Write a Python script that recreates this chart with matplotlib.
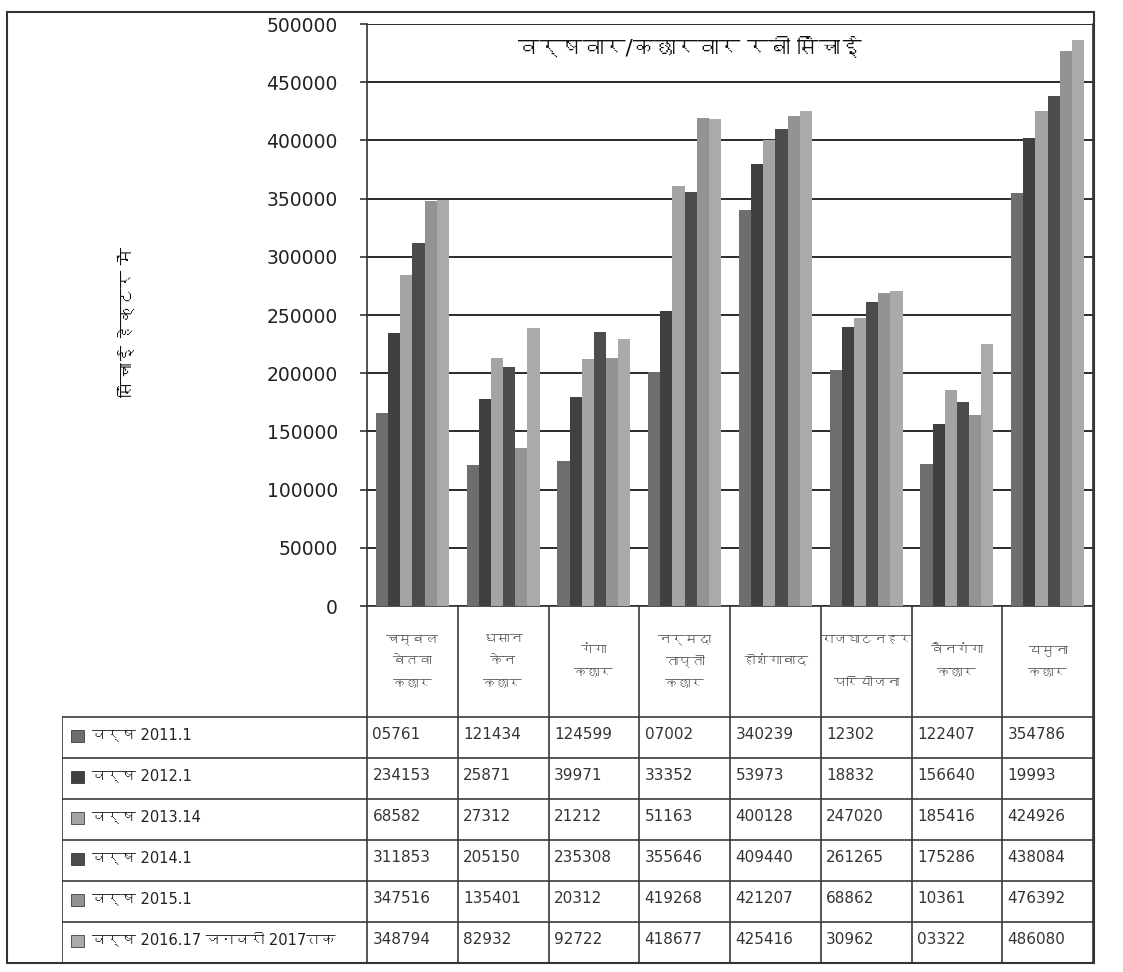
import matplotlib
matplotlib.use('Agg')
import matplotlib.pyplot as plt
from matplotlib import font_manager as fm
from matplotlib.ft2font import FT2Font
from matplotlib.patches import Rectangle

# find a font that has Devanagari glyphs
deva = None
for f in fm.fontManager.ttflist:
    try:
        if 0x0915 in FT2Font(f.fname).get_charmap():
            deva = f.name
            break
    except Exception:
        pass
# DejaVu first for digits/latin, Devanagari falls through to deva
fams = ['DejaVu Sans', deva] if deva else ['DejaVu Sans']
plt.rcParams['font.family'] = fams

# categories (basins)
categories = ['चम्बल\nबेतवा\nकछार', 'धसान\nकेन\nकछार', 'गंगा\nकछार',
              'नर्मदा\nताप्ती\nकछार', 'होशंगाबाद', 'राजघाटनहर\n\nपरियोजना',
              'वैनगंगा\nकछार', 'यमुना\nकछार']
series_names = ['वर्ष 2011.1', 'वर्ष 2012.1', 'वर्ष 2013.14', 'वर्ष 2014.1',
                'वर्ष 2015.1', 'वर्ष 2016.17 जनवरी 2017तक']

# bar heights (hectare)
y2011 = [165761, 121434, 124599, 200700, 340239, 203000, 122407, 354786]
y2012 = [234153, 178000, 179971, 253352, 379973, 240000, 156640, 401999]
y2013 = [284000, 213000, 212120, 361163, 400128, 247020, 185416, 424926]
y2014 = [311853, 205150, 235308, 355646, 409440, 261265, 175286, 438084]
y2015 = [347516, 135401, 213120, 419268, 421207, 268862, 164000, 476392]
y2016 = [348794, 238932, 229272, 418677, 425416, 270962, 225000, 486080]
series = [y2011, y2012, y2013, y2014, y2015, y2016]

# the data table text as printed (partly cut off in the source)
table_text = [
    ['05761', '121434', '124599', '07002', '340239', '12302', '122407', '354786'],
    ['234153', '25871', '39971', '33352', '53973', '18832', '156640', '19993'],
    ['68582', '27312', '21212', '51163', '400128', '247020', '185416', '424926'],
    ['311853', '205150', '235308', '355646', '409440', '261265', '175286', '438084'],
    ['347516', '135401', '20312', '419268', '421207', '68862', '10361', '476392'],
    ['348794', '82932', '92722', '418677', '425416', '30962', '03322', '486080'],
]

colors = ['#6e6e6e', '#404040', '#a4a4a4', '#4c4c4c', '#939393', '#aaaaaa']

W, H = 1123, 972
fig = plt.figure(figsize=(W / 100, H / 100), dpi=100)

def fx(x):
    return x / W

def fy(y):
    return 1 - y / H

# plot area
px0, px1, py_top, py0 = 367, 1093, 24, 606
ax = fig.add_axes([fx(px0), fy(py0), fx(px1 - px0), (py0 - py_top) / H])
n = len(categories)
bw = 0.134
for j, vals in enumerate(series):
    xs = [i + (j - 2.5) * bw for i in range(n)]
    ax.bar(xs, vals, width=bw, color=colors[j], edgecolor='none', zorder=3)
ax.set_xlim(-0.5, n - 0.5)
ax.set_ylim(0, 500000)
ax.set_yticks(range(0, 500001, 50000))
ax.set_yticklabels([str(v) for v in range(0, 500001, 50000)], fontsize=13.5,
                   color='#222222')
ax.tick_params(axis='y', length=5, width=1.2, color='#333333', pad=16)
ax.set_xticks([])
ax.grid(axis='y', color='#2a2a2a', linewidth=1.4, zorder=0)
for s in ax.spines.values():
    s.set_color('#333333')
    s.set_linewidth(1.2)
ax.spines['top'].set_visible(False)

fig.text(fx(690), fy(48), 'वर्षवार/कछारवार रबी सिंचाई', fontsize=15.5,
         ha='center', va='center', color='#111111')
fig.text(fx(128), fy(322), 'सिंचाई हेक्टर में', fontsize=12.5, rotation=90,
         ha='center', va='center', color='#111111')

# data table below the plot
tx0, ty1 = 62, 963
slot = (px1 - px0) / n
x_left = -0.5 - (px0 - tx0) / slot
row_h = 41.0
hdr = (717 - py0) / row_h
nrows = len(series_names)
tax = fig.add_axes([fx(tx0), fy(ty1), fx(px1 - tx0), (ty1 - py0) / H])
tax.set_xlim(x_left, n - 0.5)
tax.set_ylim(hdr + nrows, 0)
tax.axis('off')
lc = '#3a3a3a'
for i in range(n + 1):
    tax.plot([i - 0.5, i - 0.5], [0, hdr + nrows], color=lc, lw=1.2)
tax.plot([x_left, x_left], [hdr, hdr + nrows], color=lc, lw=1.2)
for r in range(nrows + 1):
    tax.plot([x_left, n - 0.5], [hdr + r, hdr + r], color=lc, lw=1.2)
for i, lab in enumerate(categories):
    tax.text(i, hdr / 2, lab, ha='center', va='center', fontsize=9.5,
             color='#555555', linespacing=1.9)
for r, name in enumerate(series_names):
    yc = hdr + r + 0.42
    tax.add_patch(Rectangle((x_left + 0.1, yc - 0.1), 0.14, 0.3,
                            color=colors[r], ec='#222222', lw=0.5))
    tax.text(x_left + 0.33, yc, name, ha='left', va='center', fontsize=10.5,
             color='#222222')
    for i in range(n):
        tax.text(i - 0.44, yc, table_text[r][i], ha='left', va='center',
                 fontsize=11, color='#333333')

# outer frame
fig.add_artist(Rectangle((fx(7), fy(963)), fx(1094 - 7), (963 - 12) / H,
                         transform=fig.transFigure, fill=False,
                         ec='#333333', lw=1.5))

fig.savefig('out.png', dpi=100)
